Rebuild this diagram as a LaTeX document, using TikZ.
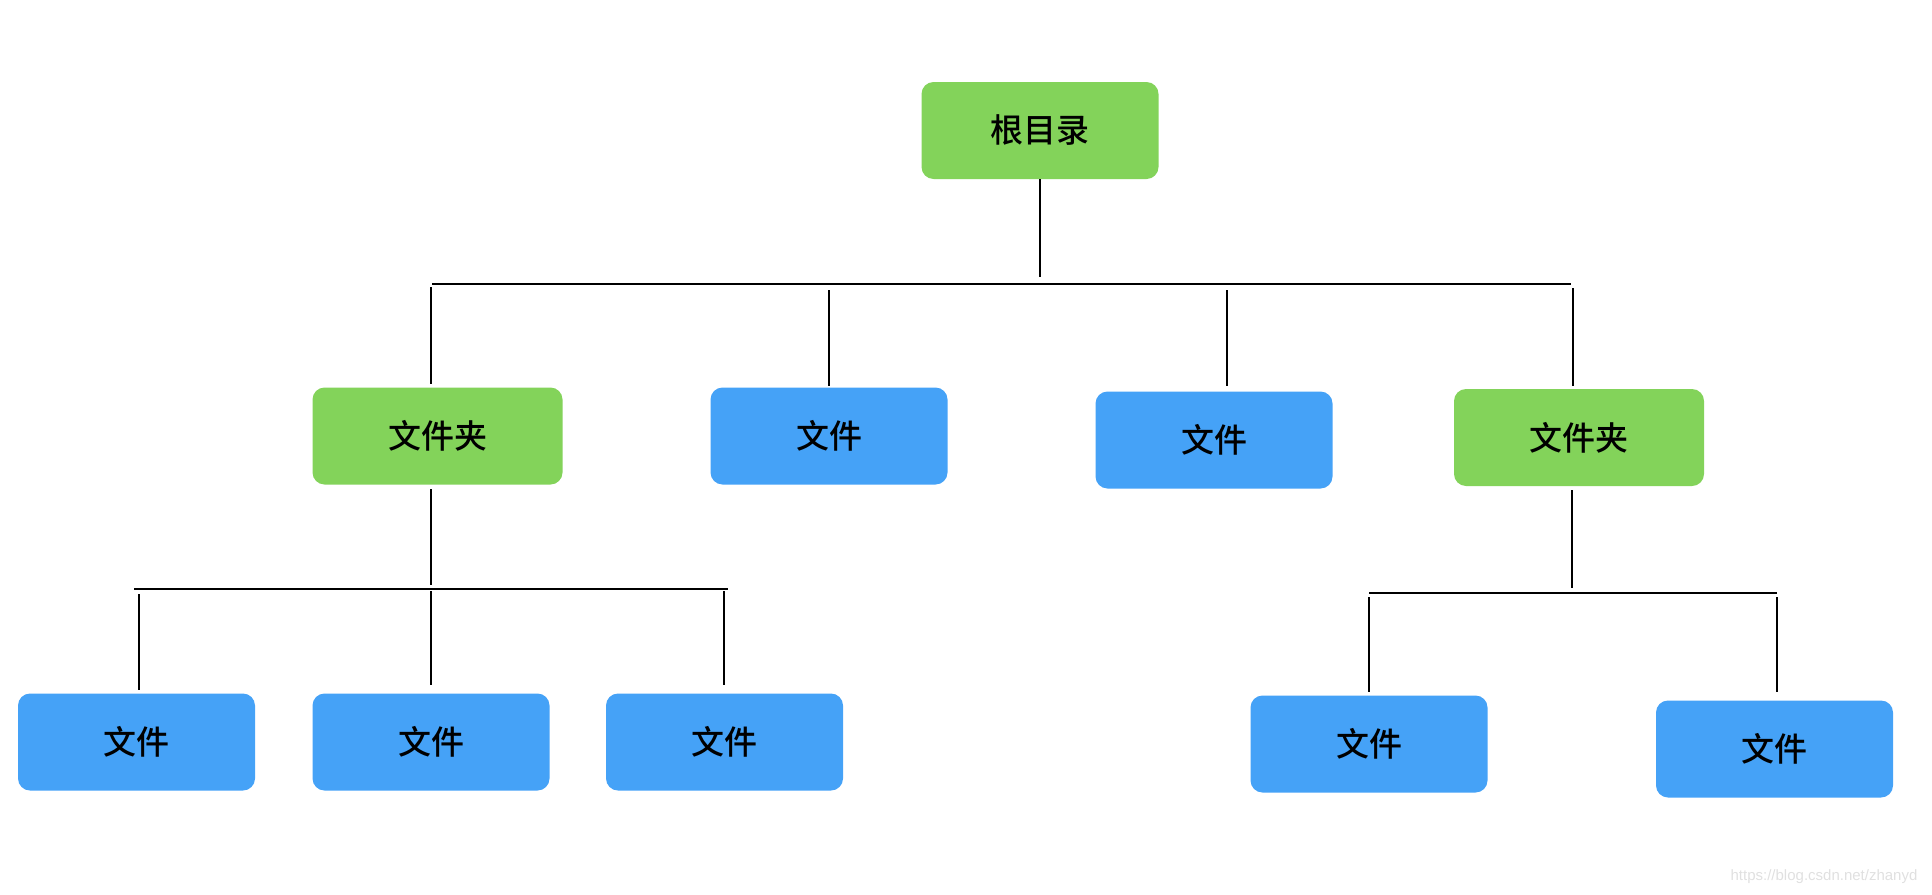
\documentclass[tikz,border=0pt]{standalone}
\usepackage{fontspec}
\newfontfamily\cjk{Noto Sans CJK SC Medium}
\setsansfont{Liberation Sans}
\definecolor{gfill}{HTML}{83D35A}
\definecolor{bfill}{HTML}{45A2F7}
\tikzset{
  box/.style={rounded corners=12pt, inner sep=0pt, minimum height=97pt, font=\cjk\fontsize{33}{39}\selectfont, text=black},
  folderbox/.style={box, fill=gfill, minimum width=250pt},
  filebox/.style={box, fill=bfill, minimum width=237pt},
  conn/.style={draw=black, line width=2pt}
}
\begin{document}
\begin{tikzpicture}[x=1pt,y=-1pt]
\useasboundingbox (0,0) rectangle (1932,894);
% nodes
\node[folderbox, minimum width=237pt] (root) at (1040,130.5) {根目录};
\node[folderbox] (fo1) at (437.5,436) {文件夹};
\node[filebox] (fi2) at (829,436) {文件};
\node[filebox] (fi3) at (1214,440) {文件};
\node[folderbox] (fo4) at (1579,437.5) {文件夹};
\node[filebox] (l1) at (136.5,742) {文件};
\node[filebox] (l2) at (431,742) {文件};
\node[filebox] (l3) at (724.5,742) {文件};
\node[filebox] (r1) at (1369,744) {文件};
\node[filebox] (r2) at (1774.5,749) {文件};
% coordinates
\coordinate (rs) at (1040,277);
\coordinate (b1L) at (432,284);
\coordinate (b1R) at (1571,284);
\coordinate (t1a) at (431,287); \coordinate (t1b) at (431,384);
\coordinate (t2a) at (829,290); \coordinate (t2b) at (829,386);
\coordinate (t3a) at (1227,290); \coordinate (t3b) at (1227,386);
\coordinate (t4a) at (1573,288); \coordinate (t4b) at (1573,386);
\coordinate (s1a) at (431,489); \coordinate (s1b) at (431,585);
\coordinate (b2L) at (134,589); \coordinate (b2R) at (728,589);
\coordinate (u1a) at (139,594); \coordinate (u1b) at (139,690);
\coordinate (u2a) at (431,591); \coordinate (u2b) at (431,685);
\coordinate (u3a) at (724,591); \coordinate (u3b) at (724,685);
\coordinate (s4a) at (1572,490); \coordinate (s4b) at (1572,588);
\coordinate (b3L) at (1369,593); \coordinate (b3R) at (1777,593);
\coordinate (v1a) at (1369,597); \coordinate (v1b) at (1369,692);
\coordinate (v2a) at (1777,597); \coordinate (v2b) at (1777,692);
% connectors
\draw[conn] (root.south) -- (rs);
\draw[conn] (b1L) -- (b1R);
\draw[conn] (t1a) -- (t1b);
\draw[conn] (t2a) -- (t2b);
\draw[conn] (t3a) -- (t3b);
\draw[conn] (t4a) -- (t4b);
\draw[conn] (s1a) -- (s1b);
\draw[conn] (b2L) -- (b2R);
\draw[conn] (u1a) -- (u1b);
\draw[conn] (u2a) -- (u2b);
\draw[conn] (u3a) -- (u3b);
\draw[conn] (s4a) -- (s4b);
\draw[conn] (b3L) -- (b3R);
\draw[conn] (v1a) -- (v1b);
\draw[conn] (v2a) -- (v2b);
% watermark
\node[font=\sffamily\fontsize{15}{18}\selectfont, text=black!12, inner sep=0pt] (wm) at (1824,877) {https://blog.csdn.net/zhanyd};
\end{tikzpicture}
\end{document}
